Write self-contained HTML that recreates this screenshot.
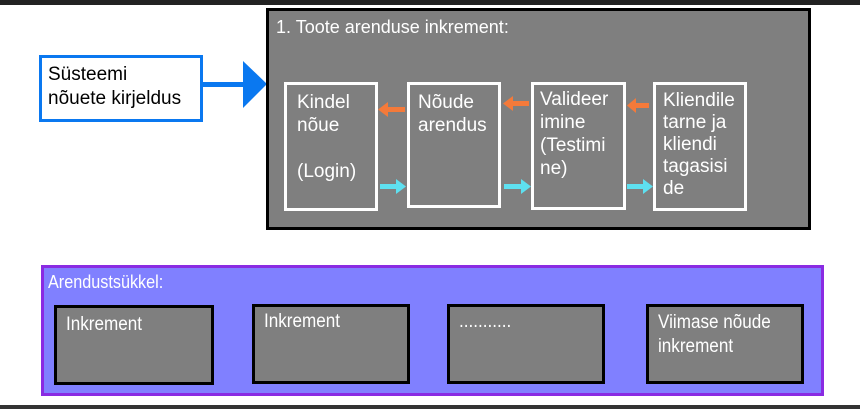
<!DOCTYPE html>
<html><head><meta charset="utf-8"><style>
body{margin:0;width:860px;height:409px;background:#fff;position:relative;overflow:hidden;font-family:"Liberation Sans",sans-serif}
.a{position:absolute;box-sizing:border-box}
.t{color:#fff;font-size:19px;line-height:23px;padding:6px 0 0 10px}
.ib{border:3px solid #fff;background:#7f7f7f}
.bb{border:3px solid #000;background:#7f7f7f;color:#fff;font-size:19px;line-height:24px;padding:5px 0 0 9px}
.bb span{display:inline-block;transform:scaleX(.9);transform-origin:left;white-space:nowrap}
</style></head><body>
<div class="a" style="left:0;top:0;width:860px;height:5px;background:#222"></div>
<div class="a" style="left:0;top:405px;width:860px;height:4px;background:#333"></div>
<div class="a" style="left:39px;top:55px;width:164px;height:67px;border:3px solid #0a78f0;background:#fff;font-size:19px;line-height:24px;padding:5px 0 0 6px">Süsteemi<br>nõuete kirjeldus</div>
<svg class="a" style="left:0;top:0" width="860" height="409">
<rect x="202" y="82" width="44" height="5" fill="#0a78f0"/>
<polygon points="243,61 267,84 243,108" fill="#0a78f0"/>
</svg>
<div class="a" style="left:266px;top:8px;width:545px;height:222px;border:3px solid #000;background:#7f7f7f"></div>
<div class="a" style="left:276px;top:17px;color:#fff;font-size:18px">1. Toote arenduse inkrement:</div>
<div class="a ib t" style="left:284px;top:82px;width:94px;height:129px">Kindel<br>nõue<br><br>(Login)</div>
<div class="a ib t" style="left:407px;top:82px;width:94px;height:126px;padding-left:8px">Nõude<br>arendus</div>
<div class="a ib t" style="left:531px;top:82px;width:95px;height:128px;padding:3px 0 0 6px">Valideer<br>imine<br>(Testimi<br>ne)</div>
<div class="a ib t" style="left:653px;top:82px;width:94px;height:129px;padding:5px 0 0 7px;line-height:22px">Kliendile<br>tarne ja<br>kliendi<br>tagasisi<br>de</div>
<svg class="a" style="left:0;top:0" width="860" height="409">
<g fill="#f47a3a"><rect x="386" y="107" width="19" height="5"/><polygon points="378,109.5 388,102 388,117"/>
<rect x="510" y="101" width="19" height="5"/><polygon points="503,103.5 513,96 513,111"/>
<rect x="630" y="103" width="19" height="5"/><polygon points="627,105.5 636,98 636,113"/></g>
<g fill="#5ee0f0"><rect x="380" y="184" width="18" height="5"/><polygon points="406,186.5 396,179 396,194"/>
<rect x="504" y="184" width="19" height="5"/><polygon points="531,186.5 521,179 521,194"/>
<rect x="627" y="184" width="18" height="5"/><polygon points="653,186.5 643,179 643,194"/>
<rect x="222" y="343" width="17" height="5"/><polygon points="247,345.5 237,338 237,353"/>
<rect x="415" y="340" width="17" height="5"/><polygon points="441,342.5 431,335 431,350"/>
<rect x="617" y="347" width="17" height="5"/><polygon points="642,349.5 632,342 632,357"/></g>
</svg>
<div class="a" style="left:41px;top:265px;width:783px;height:131px;border:3px solid #8a2be2;background:#8080ff"></div>
<div class="a" style="left:48px;top:272px;color:#fff;font-size:18px;transform:scaleX(.9);transform-origin:left">Arendustsükkel:</div>
<div class="a bb" style="left:54px;top:305px;width:160px;height:80px"><span>Inkrement</span></div>
<div class="a bb" style="left:252px;top:304px;width:158px;height:80px;padding-top:3px"><span>Inkrement</span></div>
<div class="a bb" style="left:447px;top:304px;width:158px;height:80px;padding-top:3px"><span>...........</span></div>
<div class="a bb" style="left:646px;top:304px;width:158px;height:80px;padding-top:4px"><span>Viimase nõude</span><br><span>inkrement</span></div>
</body></html>
